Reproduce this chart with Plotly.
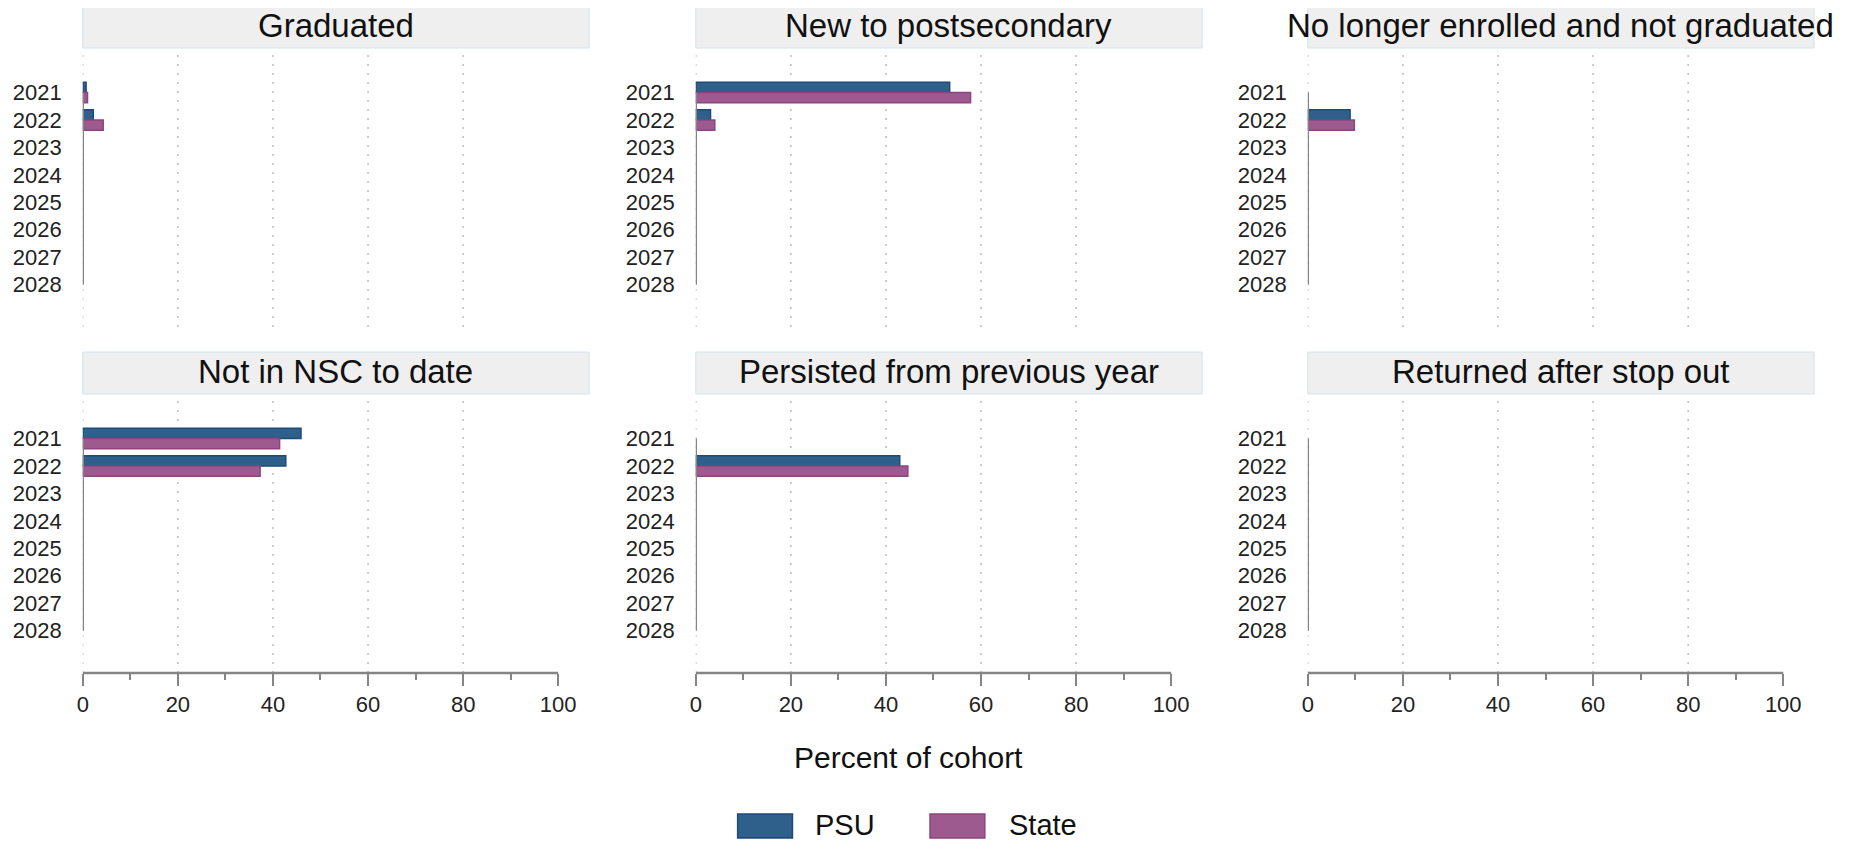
import plotly.graph_objects as go
from plotly.subplots import make_subplots

# ---------------- data ----------------
years = ["2021", "2022", "2023", "2024", "2025", "2026", "2027", "2028"]
panels = [
    "Graduated",
    "New to postsecondary",
    "No longer enrolled and not graduated",
    "Not in NSC to date",
    "Persisted from previous year",
    "Returned after stop out",
]
series_names = ["PSU", "State"]

psu_graduated = [0.7, 2.2, None, None, None, None, None, None]
state_graduated = [1.0, 4.3, None, None, None, None, None, None]
psu_new = [53.4, 3.1, None, None, None, None, None, None]
state_new = [57.8, 4.0, None, None, None, None, None, None]
psu_no_longer = [None, 8.9, None, None, None, None, None, None]
state_no_longer = [None, 9.8, None, None, None, None, None, None]
psu_not_nsc = [45.9, 42.7, None, None, None, None, None, None]
state_not_nsc = [41.4, 37.3, None, None, None, None, None, None]
psu_persisted = [None, 42.9, None, None, None, None, None, None]
state_persisted = [None, 44.6, None, None, None, None, None, None]
psu_returned = [None, None, None, None, None, None, None, None]
state_returned = [None, None, None, None, None, None, None, None]

psu_values = [psu_graduated, psu_new, psu_no_longer, psu_not_nsc, psu_persisted, psu_returned]
state_values = [state_graduated, state_new, state_no_longer, state_not_nsc, state_persisted, state_returned]

x_ticks = [0, 20, 40, 60, 80, 100]
grid_vals = [0, 20, 40, 60, 80]
x_title = "Percent of cohort"

# ---------------- style ----------------
PAGE_W, PAGE_H = 1864, 850
BODY_MARGIN = 8  # default browser body margin around the plot div
W, H = PAGE_W - 2 * BODY_MARGIN, PAGE_H - 2 * BODY_MARGIN
FONT = "Liberation Sans, Arial, sans-serif"
PSU_FILL, PSU_LINE = "#2f5f8b", "#1f4a78"
ST_FILL, ST_LINE = "#9c5a8e", "#8c4580"
AXIS_C = "#858585"
GRID_C = "#bdbdbd"

# layout in page pixels
col_px = [(77, 585), (692, 1200), (1306, 1814)]
row_px = [(48, 327), (394, 673)]
strip_h = 42


def px_x(v):
    return (v - BODY_MARGIN) / W


def px_y(v):
    return 1 - (v - BODY_MARGIN) / H


fig = make_subplots(rows=2, cols=3)

shapes = []
annotations = []
for i, title in enumerate(panels):
    r, c = divmod(i, 3)
    k = i + 1
    xs = "" if k == 1 else str(k)
    fig.add_trace(go.Bar(y=years, x=psu_values[i], orientation="h", name=series_names[0],
                         marker=dict(color=PSU_FILL, line=dict(color=PSU_LINE, width=1.5)),
                         showlegend=False, hoverinfo="x+y"), row=r + 1, col=c + 1)
    fig.add_trace(go.Bar(y=years, x=state_values[i], orientation="h", name=series_names[1],
                         marker=dict(color=ST_FILL, line=dict(color=ST_LINE, width=1.5)),
                         showlegend=False, hoverinfo="x+y"), row=r + 1, col=c + 1)

    x0p, x1p = col_px[c]
    y0p, y1p = row_px[r]
    bottom = r == 1
    fig.layout["xaxis" + xs].update(
        domain=[px_x(x0p), px_x(x1p)], range=[0, 106.5],
        tick0=0, dtick=20, showgrid=False, zeroline=False, showline=False,
        ticks="outside" if bottom else "", ticklen=12, tickwidth=2, tickcolor=AXIS_C,
        showticklabels=bottom, tickfont=dict(family=FONT, size=22, color="#222"),
        minor=dict(tick0=0, dtick=10, ticks="outside" if bottom else "", ticklen=6,
                   tickwidth=2, tickcolor=AXIS_C, showgrid=False),
        fixedrange=True,
    )
    fig.layout["yaxis" + xs].update(
        domain=[px_y(y1p), px_y(y0p)], type="category",
        categoryorder="array", categoryarray=years,
        range=[8.54, -1.62], showgrid=False, zeroline=False, showline=False,
        ticks="", ticklabelstandoff=20,
        tickfont=dict(family=FONT, size=22, color="#222"), fixedrange=True,
    )

    # strip
    shapes.append(dict(type="rect", xref="paper", yref="paper",
                       x0=px_x(x0p), x1=px_x(x1p), y0=px_y(y0p), y1=px_y(y0p - strip_h),
                       fillcolor="#efefef", line=dict(color="#d6e4ea", width=1), layer="below"))
    annotations.append(dict(text=title, xref="paper", yref="paper",
                            x=px_x((x0p + x1p) / 2), y=px_y(y0p - strip_h / 2 - 1),
                            xanchor="center", yanchor="middle", showarrow=False,
                            font=dict(family=FONT, size=33, color="#111")))
    # dotted gridlines
    for g in grid_vals:
        shapes.append(dict(type="line", xref="x" + xs, yref="y" + xs + " domain",
                           x0=g, x1=g, y0=0, y1=1,
                           line=dict(color=GRID_C, width=1.5, dash="2px,7px"), layer="below"))
    # category axis line (from first to last category)
    shapes.append(dict(type="line", xref="x" + xs, yref="y" + xs,
                       x0=0, x1=0, y0=0, y1=len(years) - 1,
                       line=dict(color=AXIS_C, width=2.5)))
    # value axis line
    if bottom:
        shapes.append(dict(type="line", xref="x" + xs, yref="y" + xs + " domain",
                           x0=x_ticks[0], x1=x_ticks[-1], y0=0, y1=0,
                           line=dict(color=AXIS_C, width=2.5)))

# x title
annotations.append(dict(text=x_title, xref="paper", yref="paper", x=px_x(905), y=px_y(757),
                        xanchor="center", yanchor="middle", showarrow=False,
                        font=dict(family=FONT, size=30, color="#111")))

# legend (manual)
legend_items = [(series_names[0], PSU_FILL, PSU_LINE, 734, 789, 810),
                (series_names[1], ST_FILL, ST_LINE, 927, 982, 1004)]
for name, fill, line, sx0, sx1, tx in legend_items:
    shapes.append(dict(type="rect", xref="paper", yref="paper",
                       x0=px_x(sx0), x1=px_x(sx1), y0=px_y(838), y1=px_y(814),
                       fillcolor=fill, line=dict(color=line, width=1.5)))
    annotations.append(dict(text=name, xref="paper", yref="paper", x=px_x(tx), y=px_y(825),
                            xanchor="left", yanchor="middle", showarrow=False,
                            font=dict(family=FONT, size=29, color="#111")))

fig.update_layout(
    width=W, height=H, margin=dict(l=0, r=0, t=0, b=0),
    paper_bgcolor="white", plot_bgcolor="white",
    barmode="group", bargap=0.25, bargroupgap=0,
    showlegend=False, shapes=shapes, annotations=annotations,
    font=dict(family=FONT),
)

fig.write_html("out.html")
